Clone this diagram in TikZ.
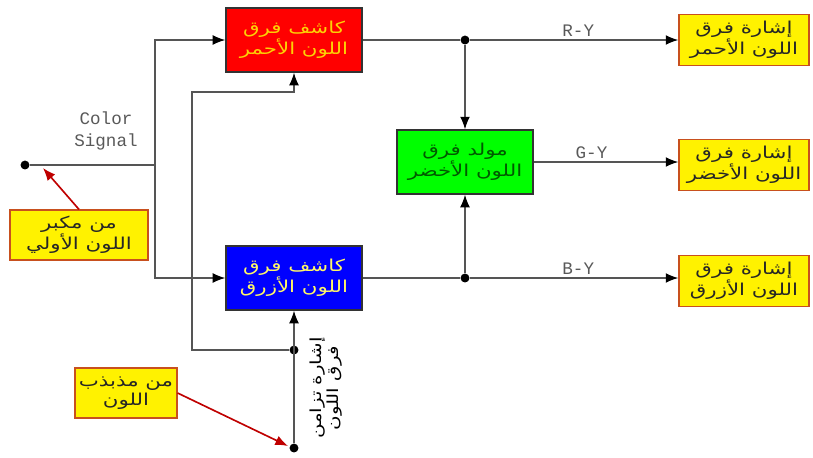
\documentclass[tikz,border=0pt]{standalone}
\usepackage{fontspec}
\setmonofont{Liberation Mono}
\newfontfamily\arabicfont[Script=Arabic,FakeStretch=1.3]{DejaVu Sans}
\TeXXeTstate=1
\usetikzlibrary{arrows.meta,positioning}
\newcommand{\ar}[1]{{\arabicfont\beginR #1\endR}}
\definecolor{wiregray}{HTML}{555555}
\definecolor{boxedge}{HTML}{C8501E}
\tikzset{
  wire/.style={draw=wiregray,line width=1.5pt},
  arr/.style={-{Latex[length=3.8mm,width=3mm,color=black]}},
  pointer/.style={draw=red!75!black,line width=1.4pt,-{Latex[length=3.8mm,width=3mm]}},
  pont/.style={circle,fill=black,inner sep=2.7pt},
  blokk/.style={draw=black!80,line width=1pt,minimum width=40.8mm,minimum height=19.2mm,
    align=center,font=\fontsize{14}{16}\selectfont},
  jel/.style={draw=boxedge,line width=1pt,fill=yellow,minimum width=39mm,minimum height=15.3mm,
    align=center,inner sep=1pt,text=black!85,font=\fontsize{14}{16}\selectfont},
  felirat/.style={font=\ttfamily\fontsize{15}{19}\selectfont,text=black!65},
}

\begin{document}
\begin{tikzpicture}[x=0.3mm,y=-0.3mm]
  \useasboundingbox (0,0) rectangle (813,457);
  % detector and generator blocks
  \node[blokk,fill=red,text=yellow!70!orange] (red) at (294,40) {\ar{كاشف فرق}\\\ar{اللون الأحمر}};
  \node[blokk,fill=blue,text=yellow!60] (blue) at (294,278) {\ar{كاشف فرق}\\\ar{اللون الأزرق}};
  \node[blokk,fill=green,text=green!35!black] (green) at (465,162) {\ar{مولد فرق}\\\ar{اللون الأخضر}};
  % outputs
  \node[jel] (outR) at (744,40) {\ar{إشارة فرق}\\\ar{اللون الأحمر}};
  \node[jel] (outG) at (744,165) {\ar{إشارة فرق}\\\ar{اللون الأخضر}};
  \node[jel] (outB) at (744,281) {\ar{إشارة فرق}\\\ar{اللون الأزرق}};
  % sources
  \node[jel,minimum width=41.4mm,minimum height=15mm] (src1) at (79,235) {\ar{من مكبر}\\\ar{اللون الأولي}};
  \node[jel,minimum width=30.6mm,minimum height=15mm] (src2) at (126,393) {\ar{من مذبذب}\\\ar{اللون}};

  % input and split
  \node[pont] (in) at (25,165) {};
  \coordinate (split) at (155,165);
  \node[felirat,align=center] (cs) at (106,131) {Color\\Signal};
  \draw[wire] (in) -- (split);
  \draw[wire,arr] (split) |- (red.west);
  \draw[wire,arr] (split) |- (blue.west);

  % subcarrier feed
  \node[pont] (sync) at (294,448) {};
  \node[pont] (tap) at (294,350) {};
  \coordinate (loop) at (192,92);
  \draw[wire,arr] (sync) -- (blue.south);
  \draw[wire,arr] (tap) -| (loop) -| (red.south);
  \node[rotate=90,align=center,font=\fontsize{13}{14}\selectfont] (synctxt) at (326,388)
    {\ar{إشارة تزامن}\\\ar{فرق اللون}};

  % colour difference outputs
  \node[pont] (rj) at (465,40) {};
  \node[pont] (bj) at (465,278) {};
  \draw[wire] (red.east) -- (rj);
  \draw[wire,arr] (rj) -- (rj -| outR.west) node[felirat,pos=0.52,above=-1pt] {R-Y};
  \draw[wire,arr] (rj) -- (green.north);
  \draw[wire] (blue.east) -- (bj);
  \draw[wire,arr] (bj) -- (bj -| outB.west) node[felirat,pos=0.52,above=-1pt] {B-Y};
  \draw[wire,arr] (bj) -- (green.south);
  \draw[wire,arr] (green.east) -- (green.east -| outG.west) node[felirat,pos=0.4,above=-1pt] {G-Y};

  % where the signals come from
  \coordinate (inhit) at (43,168);
  \coordinate (synchit) at (288,446);
  \draw[pointer] (src1.north) -- (inhit);
  \draw[pointer] (src2.east) -- (synchit);
\end{tikzpicture}
\end{document}
